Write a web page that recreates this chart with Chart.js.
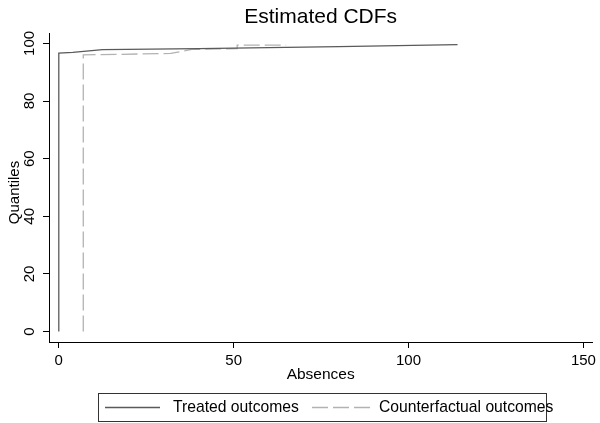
<!DOCTYPE html>
<html>
<head>
<meta charset="utf-8">
<script src="https://cdn.jsdelivr.net/npm/chart.js@4.4.1/dist/chart.umd.min.js"></script>
<style>
  html, body { margin: 0; padding: 0; background: #fff; }
  #wrap { width: 600px; height: 423px; position: relative; }
</style>
</head>
<body>
<div id="wrap"><canvas id="c" width="600" height="423"></canvas></div>
<script>
// ---- data ----
const chartTitle = "Estimated CDFs";
const xTitle = "Absences";
const yTitle = "Quantiles";
const seriesNames = ["Treated outcomes", "Counterfactual outcomes"];
const xTicks = [0, 50, 100, 150];
const yTicks = [0, 20, 40, 60, 80, 100];

const treatedX = [0, 0, 4, 12.5, 40, 80, 114];
const treatedY = [0, 96.6, 96.9, 97.8, 98.2, 98.9, 99.6];

const counterX = [7, 7, 32, 38, 51, 51, 65];
const counterY = [0, 96.0, 96.5, 97.9, 98.2, 99.4, 99.4];

const FONT = "'Liberation Sans', Arial, Helvetica, sans-serif";
const treatedColor = "#5a5a5a";
const counterColor = "#b2b2b2";
const dashPattern = [16, 5];

const toPts = (xs, ys) => xs.map((x, i) => ({ x: x, y: ys[i] }));

const overlay = {
  id: 'overlay',
  afterDraw(chart) {
    const ctx = chart.ctx;
    const ca = chart.chartArea;
    const cx = (ca.left + ca.right) / 2;
    ctx.save();
    // title
    ctx.fillStyle = '#000';
    ctx.font = "21px " + FONT;
    ctx.textAlign = 'center';
    ctx.textBaseline = 'alphabetic';
    ctx.fillText(chartTitle, cx, 23);
    // y axis title
    ctx.save();
    ctx.translate(15, 192.5);
    ctx.rotate(-Math.PI / 2);
    ctx.font = "15px " + FONT;
    ctx.textBaseline = 'middle';
    ctx.fillText(yTitle, 0, 0);
    ctx.restore();
    // legend box
    ctx.strokeStyle = '#333';
    ctx.lineWidth = 1;
    ctx.strokeRect(98.5, 393.5, 448, 28);
    // treated sample
    ctx.strokeStyle = treatedColor;
    ctx.lineWidth = 1.3;
    ctx.setLineDash([]);
    ctx.beginPath(); ctx.moveTo(105, 407.5); ctx.lineTo(160, 407.5); ctx.stroke();
    // counterfactual sample
    ctx.strokeStyle = counterColor;
    ctx.setLineDash(dashPattern);
    ctx.beginPath(); ctx.moveTo(312, 407.5); ctx.lineTo(370, 407.5); ctx.stroke();
    ctx.setLineDash([]);
    ctx.fillStyle = '#000';
    ctx.font = "15.7px " + FONT;
    ctx.textAlign = 'left';
    ctx.textBaseline = 'middle';
    ctx.fillText(seriesNames[0], 173, 408);
    ctx.fillText(seriesNames[1], 379, 408);
    ctx.restore();
  }
};

new Chart(document.getElementById('c'), {
  type: 'line',
  data: {
    datasets: [
      {
        label: seriesNames[0],
        data: toPts(treatedX, treatedY),
        borderColor: treatedColor,
        borderWidth: 1.3,
        pointRadius: 0,
        tension: 0,
        fill: false
      },
      {
        label: seriesNames[1],
        data: toPts(counterX, counterY),
        borderColor: counterColor,
        borderWidth: 1.3,
        borderDash: dashPattern,
        pointRadius: 0,
        tension: 0,
        fill: false
      }
    ]
  },
  options: {
    responsive: false,
    animation: false,
    events: [],
    layout: { padding: { left: 0, top: 33, right: 4, bottom: 39 } },
    plugins: {
      legend: { display: false },
      title: { display: false },
      tooltip: { enabled: false }
    },
    scales: {
      x: {
        type: 'linear',
        min: -2.8,
        max: 152.55,
        afterBuildTicks: (s) => { s.ticks = xTicks.map(v => ({ value: v })); },
        afterFit: (s) => { s.height = 42; },
        grid: { display: true, drawOnChartArea: false, drawTicks: true, tickLength: 6, color: '#000', lineWidth: 1 },
        border: { display: true, color: '#000', width: 1 },
        ticks: { color: '#000', font: { family: FONT, size: 15 }, padding: 4, maxRotation: 0, autoSkip: false },
        title: { display: true, text: xTitle, color: '#000', font: { family: FONT, size: 15.5 }, padding: { top: 0, bottom: 0 } }
      },
      y: {
        type: 'linear',
        min: -3.6,
        max: 103.6,
        afterBuildTicks: (s) => { s.ticks = yTicks.map(v => ({ value: v })); },
        afterFit: (s) => { s.width = 49; },
        grid: { display: true, drawOnChartArea: false, drawTicks: true, tickLength: 6, color: '#000', lineWidth: 1 },
        border: { display: true, color: '#000', width: 1 },
        ticks: { color: '#000', font: { family: FONT, size: 15 }, padding: 1, minRotation: 90, maxRotation: 90, crossAlign: 'center', autoSkip: false },
        title: { display: false, text: yTitle }
      }
    }
  },
  plugins: [overlay]
});
</script>
</body>
</html>
